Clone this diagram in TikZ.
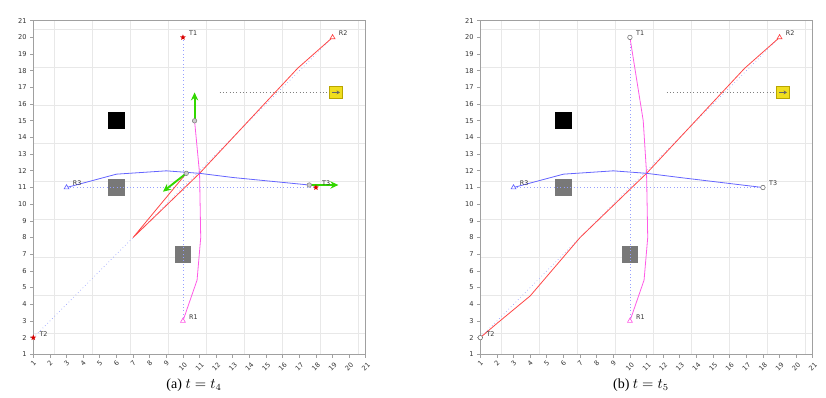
\documentclass[tikz,border=0pt]{standalone}
\usepackage{fontspec}
\setmainfont{Liberation Serif}
\setsansfont{DejaVu Sans}
\usetikzlibrary{arrows.meta,positioning,shapes.geometric}
\definecolor{pathpink}{RGB}{255,90,230}
\definecolor{pathred}{RGB}{255,70,70}
\definecolor{pathblue}{RGB}{100,100,255}
\definecolor{linkblue}{RGB}{150,160,255}
\definecolor{headgreen}{RGB}{50,215,0}
\definecolor{boxyellow}{RGB}{240,222,30}
\definecolor{boxedge}{RGB}{185,165,0}
\definecolor{obsgray}{RGB}{120,120,120}
\definecolor{gridgray}{RGB}{232,232,232}
\definecolor{axisgray}{RGB}{160,160,160}

\tikzset{
  ticklbl/.style={font=\sffamily\fontsize{5}{6}\selectfont,text=black!80,inner sep=0pt},
  lbl/.style={font=\sffamily\fontsize{4.8}{6}\selectfont,text=black!80,inner sep=0pt},
  obs/.style={minimum size=12.5pt,inner sep=0pt,fill=obsgray},
  robot/.style={regular polygon,regular polygon sides=3,draw,fill=white,inner sep=0pt,
    minimum size=4.2pt,line width=0.5pt},
  goal/.style={circle,draw=black!60,fill=white,inner sep=0pt,minimum size=3.4pt,line width=0.4pt},
  target/.style={star,star points=5,star point ratio=2.2,fill=red!85!black,inner sep=0pt,minimum size=4.5pt},
  now/.style={circle,draw=black!50,fill=black!20,inner sep=0pt,minimum size=3.4pt,line width=0.4pt},
  link/.style={linkblue,dotted,line width=0.5pt},
  heading/.style={-{Stealth[length=6pt,width=5.5pt]},headgreen,line width=1.4pt},
  caption/.style={font=\fontsize{10.5}{12}\selectfont}
}

% grid, frame, obstacles and the straight links
\newcommand{\basemap}{%
  \draw[gridgray,line width=0.4pt] (1,1) grid (21,21);
  \draw[axisgray,line width=0.6pt] (1,1) rectangle (21,21);
  \foreach \i in {1,...,21} {
    \draw[axisgray,line width=0.5pt] (\i,1) -- (\i,0.8);
    \draw[axisgray,line width=0.5pt] (1,\i) -- (0.8,\i);
    \node[ticklbl,anchor=east] at (0.62,\i) {\i};
    \pgfmathsetmacro{\tdy}{\i<10 ? 0.47 : 0.27}
    \node[ticklbl,rotate=45] at (\i,\tdy) {\i};
  }
  \node[obs,fill=black] (wall) at (6,15) {};
  \node[obs] (obsa) at (6,11) {};
  \node[obs] (obsb) at (10,7) {};
  \node[draw=boxedge,fill=boxyellow,minimum size=9.4pt,inner sep=0pt,line width=0.5pt] (dock) at (19.2,16.7) {};
  \coordinate (dockline) at (12.2,16.7);
  \draw[black!50,dotted,line width=0.5pt] (dockline) -- (dock);
  \draw[-{Stealth[length=2.5pt,width=3pt]},black!60,line width=0.5pt]
    ([xshift=-3pt]dock.center) -- ([xshift=3pt]dock.center);
  \coordinate (r1) at (10,3);
  \coordinate (t1) at (10,20);
  \coordinate (r2) at (19,20);
  \coordinate (t2) at (1,2);
  \coordinate (r3) at (3,11);
  \coordinate (t3) at (18,11);
  \foreach \a/\b in {r1/t1, t2/r2, r3/t3} {
    \draw[link] (\a) -- (\b);
  }
}

% start markers and names
\newcommand{\robots}{%
  \node[robot,draw=pathpink] (r1m) at (r1) {};
  \node[robot,draw=pathred] (r2m) at (r2) {};
  \node[robot,draw=pathblue] (r3m) at (r3) {};
  \foreach \p/\n in {r1/R1, r2/R2, r3/R3, t1/T1, t2/T2, t3/T3} {
    \node[lbl,above right=1pt and 4.5pt of \p] (\p lbl) {\n};
  }
}

\begin{document}
\begin{tikzpicture}
  \useasboundingbox (0,0) rectangle (619.5pt,298.5pt);

  % (a) t = t4
  \begin{scope}[shift={(12.5pt,20.25pt)},x=12.47pt,y=12.51pt]
    \basemap
    \coordinate (pinknow) at (10.7,15);
    \coordinate (rednow) at (10.2,11.85);
    \coordinate (bluenow) at (17.6,11.15);
    \draw[pathpink,line width=0.6pt] (r1) -- (10.85,5.45) -- (11.07,8) -- (11,11.85) -- (pinknow);
    \draw[pathred,line width=0.6pt] (r2) -- (16.9,18.15) -- (11,11.85) -- (7,8) -- (rednow);
    \draw[pathblue,line width=0.6pt] (r3) -- (6,11.8) -- (9,12) -- (11,11.85) -- (13,11.6) -- (bluenow);
    % Arrows
    \coordinate (pinkhead) at (10.7,16.7);
    \coordinate (redhead) at (8.8,10.75);
    \coordinate (bluehead) at (19.35,11.15);
    \foreach \a/\b in {pinknow/pinkhead, rednow/redhead, bluenow/bluehead} {
      \draw[heading] (\a) -- (\b);
    }
    \foreach \a in {pinknow, rednow, bluenow} {
      \node[now] at (\a) {};
    }
    \foreach \a in {t1, t2, t3} {
      \node[target] (\a m) at (\a) {};
    }
    \robots
  \end{scope}

  % (b) t = t5
  \begin{scope}[shift={(347.75pt,20.25pt)},x=12.47pt,y=12.51pt]
    \basemap
    \draw[pathpink,line width=0.6pt] (r1) -- (10.85,5.45) -- (11.07,8) -- (11,11.85) -- (10.8,15) -- (t1);
    \draw[pathred,line width=0.6pt] (r2) -- (16.9,18.15) -- (11,11.85) -- (7,8) -- (4,4.5) -- (2,2.85) -- (t2);
    \draw[pathblue,line width=0.6pt] (r3) -- (6,11.8) -- (9,12) -- (11,11.85) -- (13,11.6) -- (t3);
    \foreach \a in {t1, t2, t3} {
      \node[goal] (\a m) at (\a) {};
    }
    \robots
  \end{scope}

  \node[caption] (capa) at (145.5pt,9.75pt) {(a) $t = t_4$};
  \node[caption] (capb) at (480.75pt,9.75pt) {(b) $t = t_5$};
\end{tikzpicture}
\end{document}
